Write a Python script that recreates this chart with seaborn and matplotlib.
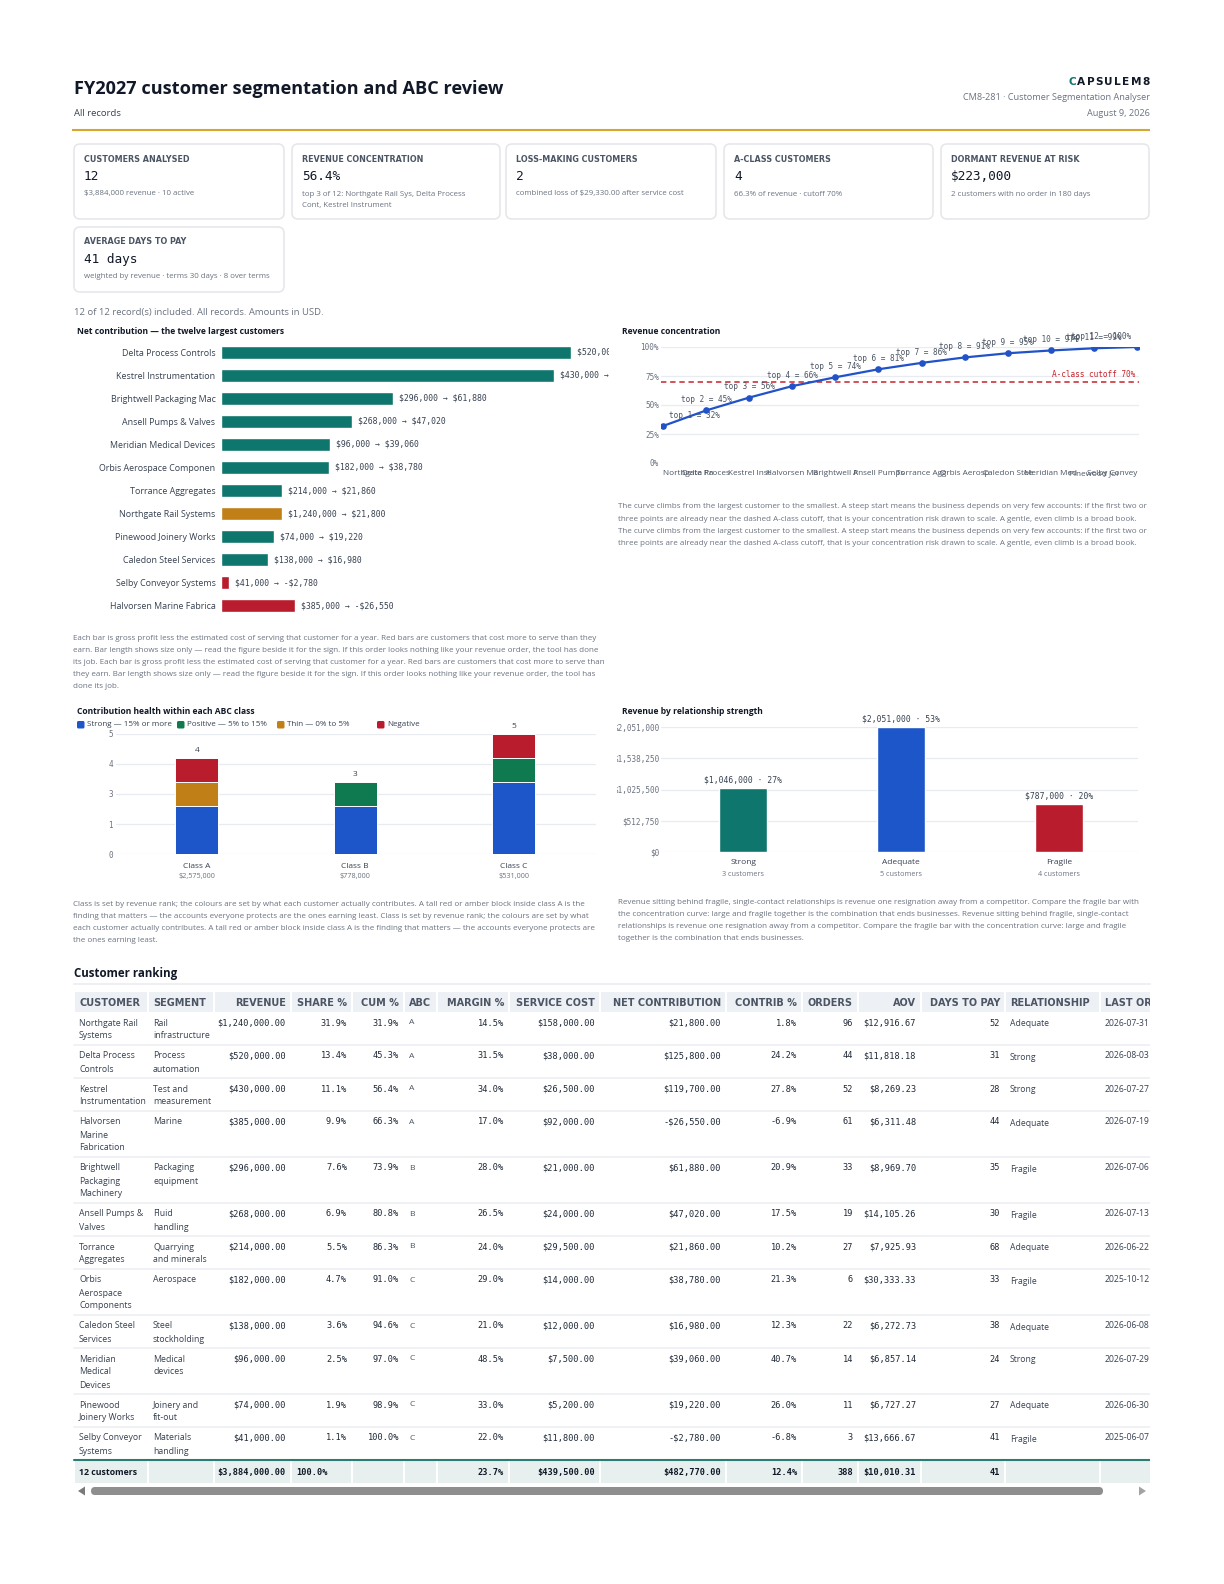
import math
import textwrap

import numpy as np
import pandas as pd
import matplotlib

matplotlib.use("Agg")
import matplotlib.pyplot as plt
import seaborn as sns
from matplotlib import font_manager
from matplotlib.patches import FancyBboxPatch, Rectangle, Polygon

# ============================
# =========== DATA ===========
# ============================

customers = [
    "Northgate Rail Systems", "Delta Process Controls", "Kestrel Instrumentation",
    "Halvorsen Marine Fabrication", "Brightwell Packaging Machinery", "Ansell Pumps & Valves",
    "Torrance Aggregates", "Orbis Aerospace Components", "Caledon Steel Services",
    "Meridian Medical Devices", "Pinewood Joinery Works", "Selby Conveyor Systems",
]
segments = [
    "Rail infrastructure", "Process automation", "Test and measurement", "Marine",
    "Packaging equipment", "Fluid handling", "Quarrying and minerals", "Aerospace",
    "Steel stockholding", "Medical devices", "Joinery and fit-out", "Materials handling",
]
revenue = [1240000, 520000, 430000, 385000, 296000, 268000, 214000, 182000, 138000, 96000, 74000, 41000]
share_pct = [31.9, 13.4, 11.1, 9.9, 7.6, 6.9, 5.5, 4.7, 3.6, 2.5, 1.9, 1.1]
cum_pct = [31.9, 45.3, 56.4, 66.3, 73.9, 80.8, 86.3, 91.0, 94.6, 97.0, 98.9, 100.0]
abc_class = ["A", "A", "A", "A", "B", "B", "B", "C", "C", "C", "C", "C"]
margin_pct = [14.5, 31.5, 34.0, 17.0, 28.0, 26.5, 24.0, 29.0, 21.0, 48.5, 33.0, 22.0]
service_cost = [158000, 38000, 26500, 92000, 21000, 24000, 29500, 14000, 12000, 7500, 5200, 11800]
net_contribution = [21800, 125800, 119700, -26550, 61880, 47020, 21860, 38780, 16980, 39060, 19220, -2780]
contrib_pct = [1.8, 24.2, 27.8, -6.9, 20.9, 17.5, 10.2, 21.3, 12.3, 40.7, 26.0, -6.8]
orders = [96, 44, 52, 61, 33, 19, 27, 6, 22, 14, 11, 3]
aov = [12916.67, 11818.18, 8269.23, 6311.48, 8969.70, 14105.26, 7925.93, 30333.33, 6272.73, 6857.14, 6727.27, 13666.67]
days_to_pay = [52, 31, 28, 44, 35, 30, 68, 33, 38, 24, 27, 41]
relationship = ["Adequate", "Strong", "Strong", "Adequate", "Fragile", "Fragile",
                "Adequate", "Fragile", "Adequate", "Strong", "Adequate", "Fragile"]
last_order = ["2026-07-31", "2026-08-03", "2026-07-27", "2026-07-19", "2026-07-06", "2026-07-13",
              "2026-06-22", "2025-10-12", "2026-06-08", "2026-07-29", "2026-06-30", "2025-06-07"]

abc_levels = ["A", "B", "C"]
health_levels = ["Strong", "Positive", "Thin", "Negative"]
health_legend = ["Strong — 15% or more", "Positive — 5% to 15%", "Thin — 0% to 5%", "Negative"]
relationship_levels = ["Strong", "Adequate", "Fragile"]
cutoff_pct = 70

kpi_cards = [
    ("CUSTOMERS ANALYSED", "12", ["$3,884,000 revenue · 10 active"]),
    ("REVENUE CONCENTRATION", "56.4%", ["top 3 of 12: Northgate Rail Sys, Delta Process", "Cont, Kestrel Instrument"]),
    ("LOSS-MAKING CUSTOMERS", "2", ["combined loss of $29,330.00 after service cost"]),
    ("A-CLASS CUSTOMERS", "4", ["66.3% of revenue · cutoff 70%"]),
    ("DORMANT REVENUE AT RISK", "$223,000", ["2 customers with no order in 180 days"]),
    ("AVERAGE DAYS TO PAY", "41 days", ["weighted by revenue · terms 30 days · 8 over terms"]),
]

caption_net = [
    "Each bar is gross profit less the estimated cost of serving that customer for a year. Red bars are customers that cost more to serve than they",
    "earn. Bar length shows size only — read the figure beside it for the sign. If this order looks nothing like your revenue order, the tool has done",
    "its job. Each bar is gross profit less the estimated cost of serving that customer for a year. Red bars are customers that cost more to serve than",
    "they earn. Bar length shows size only — read the figure beside it for the sign. If this order looks nothing like your revenue order, the tool has",
    "done its job.",
]
caption_curve = [
    "The curve climbs from the largest customer to the smallest. A steep start means the business depends on very few accounts: if the first two or",
    "three points are already near the dashed A-class cutoff, that is your concentration risk drawn to scale. A gentle, even climb is a broad book.",
    "The curve climbs from the largest customer to the smallest. A steep start means the business depends on very few accounts: if the first two or",
    "three points are already near the dashed A-class cutoff, that is your concentration risk drawn to scale. A gentle, even climb is a broad book.",
]
caption_abc = [
    "Class is set by revenue rank; the colours are set by what each customer actually contributes. A tall red or amber block inside class A is the",
    "finding that matters — the accounts everyone protects are the ones earning least. Class is set by revenue rank; the colours are set by what",
    "each customer actually contributes. A tall red or amber block inside class A is the finding that matters — the accounts everyone protects are",
    "the ones earning least.",
]
caption_rel = [
    "Revenue sitting behind fragile, single-contact relationships is revenue one resignation away from a competitor. Compare the fragile bar with",
    "the concentration curve: large and fragile together is the combination that ends businesses. Revenue sitting behind fragile, single-contact",
    "relationships is revenue one resignation away from a competitor. Compare the fragile bar with the concentration curve: large and fragile",
    "together is the combination that ends businesses.",
]

# ============================
# ========== STYLE ===========
# ============================

W, H = 1224, 1584
INK = "#111827"
TEXT = "#374151"
MUTED = "#6B7280"
HEAD = "#4B5563"
TEAL = "#0F766E"
AMBER = "#C17F17"
RED = "#B91C2C"
BLUE = "#1D56C8"
GREEN = "#0F7A4F"
LINE_BLUE = "#2152C8"
MONO = "DejaVu Sans Mono"
WIDE = "DejaVu Sans"

health_colors = {"Strong": BLUE, "Positive": GREEN, "Thin": AMBER, "Negative": RED}
relationship_colors = {"Strong": TEAL, "Adequate": BLUE, "Fragile": RED}


# ============================
# ===== HELPER FUNCTIONS =====
# ============================


def pick_sans():
    """First installed sans family that also ships a bold face."""
    weights = {}
    for f in font_manager.fontManager.ttflist:
        weights.setdefault(f.name, set()).add(f.weight)
    for fam in ["Noto Sans", "Open Sans", "Lato", "Roboto", "Inter", "Liberation Sans"]:
        for w in weights.get(fam, set()):
            if (isinstance(w, (int, float)) and w >= 600) or str(w).lower() in ("bold", "semibold", "demibold", "heavy", "black"):
                return fam
    return "DejaVu Sans"


def money(v, decimals=0):
    s = f"${abs(v):,.{decimals}f}"
    return "-" + s if v < 0 else s


def health_of(i):
    if net_contribution[i] < 0:
        return "Negative"
    if contrib_pct[i] < 5:
        return "Thin"
    if contrib_pct[i] < 15:
        return "Positive"
    return "Strong"


def net_bar_color(i):
    if net_contribution[i] < 0:
        return RED
    if contrib_pct[i] < 5:
        return AMBER
    return TEAL


def main():
    sns.set_theme(style="white")
    sans = pick_sans()
    plt.rcParams["font.family"] = [sans, "DejaVu Sans"]
    plt.rcParams["axes.unicode_minus"] = False
    plt.rcParams["text.parse_math"] = False

    fig = plt.figure(figsize=(W / 100, H / 100), dpi=100)
    fig.patch.set_facecolor("white")
    renderer = fig.canvas.get_renderer()

    # full-page canvas in pixel units
    bg = fig.add_axes([0, 0, 1, 1], zorder=0)
    bg.set_xlim(0, W)
    bg.set_ylim(H, 0)
    bg.axis("off")

    def txt(x, y, s, size=6.5, color=TEXT, weight="normal", ha="left", va="center", family=None, **kw):
        return bg.text(x, y, s, fontsize=size, color=color, fontweight=weight, ha=ha, va=va,
                       family=family if family else [sans, "DejaVu Sans"], **kw)

    def panel_axes(l, t, r, b):
        ax = fig.add_axes([l / W, 1 - b / H, (r - l) / W, (b - t) / H], zorder=1)
        ax.set_facecolor("none")
        return ax

    def mask(ax, x0, y0, x1, y1):
        # white cover standing in for the panel's overflow clip
        ax.add_patch(Rectangle((x0, y0), x1 - x0, y1 - y0, transform=bg.transData, facecolor="white",
                               edgecolor="none", zorder=20, clip_on=False))

    def caption(x, y0, lines):
        for k, line in enumerate(lines):
            txt(x, y0 + 12.2 * k, line, size=5.72, color=MUTED)

    # === Header ===
    txt(74, 89, "FY2027 customer segmentation and ABC review", size=13.1, weight="bold", color=INK)
    txt(74, 113, "All records", size=6.8)
    bg.plot([72, 1150], [130, 130], color="#D6A630", lw=1.5, solid_capstyle="butt")

    # brand mark with letter tracking, right-aligned
    brand = "CAPSULEM8"
    tracking = 1.3
    glyphs = []
    for k, ch in enumerate(brand):
        g = txt(0, 82, ch, size=7.6, weight="bold", color=TEAL if k == 0 else INK, family=WIDE)
        glyphs.append((g, g.get_window_extent(renderer).width))
    total_w = sum(w for _, w in glyphs) + tracking * (len(brand) - 1)
    x = 1150 - total_w
    for g, w in glyphs:
        g.set_x(x)
        x += w + tracking

    txt(1150, 98, "CM8-281 · Customer Segmentation Analyser", size=6.6, color=MUTED, ha="right")
    txt(1150, 113, "August 9, 2026", size=6.6, color=MUTED, ha="right")

    # === KPI cards ===
    card_boxes = [(74, 144, 284, 219), (292, 144, 500, 219), (506, 144, 716, 219),
                  (724, 144, 933, 219), (941, 144, 1149, 219), (74, 227, 284, 292)]
    for (l, t, r, b), (label, value, subs) in zip(card_boxes, kpi_cards):
        bg.add_patch(FancyBboxPatch((l, t), r - l, b - t, boxstyle="round,pad=0,rounding_size=6",
                                    facecolor="white", edgecolor="#E3E6EA", lw=1.1))
        txt(l + 10, t + 15, label, size=5.8, weight="bold", color=HEAD, family=WIDE)
        txt(l + 10, t + 32.5, value, size=9.2, color=INK, family=MONO)
        for k, s in enumerate(subs):
            txt(l + 10, t + 50 + 12 * k, s, size=5.7, color=MUTED)

    txt(74, 313, "12 of 12 record(s) included. All records. Amounts in USD.", size=6.8, color=MUTED)

    # === Chart 1: net contribution bars ===
    txt(77, 332, "Net contribution — the twelve largest customers", size=6.1, weight="bold", color=INK)
    idx = sorted(range(len(customers)), key=lambda i: -net_contribution[i])
    net_df = pd.DataFrame({
        "label": [customers[i][:24] for i in idx],
        "size": [abs(net_contribution[i]) for i in idx],
        "text": [f"{money(revenue[i])} → {money(net_contribution[i])}" for i in idx],
        "color": [net_bar_color(i) for i in idx],
    })
    ax1 = panel_axes(221, 340.5, 609, 617.5)
    sns.barplot(data=net_df, x="size", y="label", hue="label", palette=net_df["color"].tolist(),
                saturation=1, width=0.56, legend=False, orient="h", ax=ax1)
    xmax = net_df["size"].max() * 388 / 350
    ax1.set_xlim(0, xmax)
    ax1.set_ylim(len(net_df) - 0.5, -0.5)
    ax1.set_xticks([])
    ax1.set_xlabel("")
    ax1.set_ylabel("")
    sns.despine(ax=ax1, left=True, bottom=True)
    ax1.tick_params(axis="y", length=0, pad=4, labelsize=6.4, labelcolor=TEXT)
    for k, row in net_df.iterrows():
        ax1.text(row["size"] + xmax * 6 / 388, k, row["text"], va="center", ha="left",
                 fontsize=5.9, family=MONO, color=TEXT, clip_on=False)
    mask(ax1, 609, 342, 700, 384)
    caption(73, 638, caption_net)

    # === Chart 2: revenue concentration curve ===
    txt(622, 332, "Revenue concentration", size=6.1, weight="bold", color=INK)
    ax2 = panel_axes(661, 347, 1139, 463)
    cum_df = pd.DataFrame({"rank": np.arange(len(customers)), "cum": cum_pct})
    sns.lineplot(data=cum_df, x="rank", y="cum", color=LINE_BLUE, linewidth=1.6, marker="o",
                 markersize=4.8, markeredgewidth=0, ax=ax2)
    step = (len(customers) - 1) / 474
    ax2.set_xlim(-2 * step, len(customers) - 1 + 2 * step)
    ax2.set_ylim(0, 100)
    ax2.set_yticks([0, 25, 50, 75, 100])
    ax2.set_yticklabels([f"{v}%" for v in [0, 25, 50, 75, 100]], family=MONO)
    ax2.set_xticks(cum_df["rank"])
    xlabels = ax2.set_xticklabels([c[:12] for c in customers])
    xlabels[0].set_horizontalalignment("left")
    xlabels[-1].set_horizontalalignment("right")
    ax2.yaxis.grid(True, color="#E8EBEF", lw=0.9)
    ax2.set_axisbelow(True)
    sns.despine(ax=ax2, left=True, bottom=True)
    ax2.tick_params(axis="y", length=0, pad=1.5, labelsize=5.5, labelcolor=MUTED)
    ax2.tick_params(axis="x", length=0, pad=5, labelsize=5.9, labelcolor=HEAD)
    ax2.set_xlabel("")
    ax2.set_ylabel("")
    ax2.axhline(cutoff_pct, color="#C8232C", lw=1.1, ls=(0, (3.5, 2.5)), zorder=1)
    ax2.text(0.992, cutoff_pct + 2.5, f"A-class cutoff {cutoff_pct}%", transform=ax2.get_yaxis_transform(),
             ha="right", va="bottom", fontsize=5.6, family=MONO, color="#C8232C")
    n = len(cum_pct)
    for i, v in enumerate(cum_pct):
        label = f"top {i + 1} = {round(v)}%"
        if i == 0:
            ha, dx = "left", 4
        elif i == n - 1:
            ha, dx = "right", -4
        else:
            ha, dx = "center", 0
        ax2.annotate(label, xy=(i, v), xytext=(dx, 4.5), textcoords="offset points", ha=ha, va="bottom",
                     fontsize=5.6, family=MONO, color=HEAD, annotation_clip=False)
    caption(618, 507, caption_curve)

    # === Chart 3: contribution health stacked by ABC class ===
    txt(77, 712, "Contribution health within each ABC class", size=6.1, weight="bold", color=INK)
    for k, (lvl, name) in enumerate(zip(health_levels, health_legend)):
        x0 = 77 + 100 * k
        bg.add_patch(FancyBboxPatch((x0, 721), 7.5, 7.5, boxstyle="round,pad=0,rounding_size=1.5",
                                    facecolor=health_colors[lvl], edgecolor="none"))
        txt(x0 + 10, 725, name, size=5.8, color=TEXT)

    health_df = pd.DataFrame({"abc": abc_class, "health": [health_of(i) for i in range(len(customers))]})
    counts = pd.crosstab(health_df["abc"], health_df["health"]).reindex(
        index=abc_levels, columns=health_levels, fill_value=0)
    stacked = counts.cumsum(axis=1)
    class_revenue = pd.Series(revenue).groupby(pd.Series(abc_class)).sum().reindex(abc_levels)
    class_labels = [f"Class {c}" for c in abc_levels]

    ax3 = panel_axes(116, 734, 596, 854)
    for lvl in reversed(health_levels):
        sns.barplot(x=class_labels, y=stacked[lvl].values, color=health_colors[lvl], saturation=1,
                    width=0.27, edgecolor="white", linewidth=0.7, ax=ax3)
    ax3.set_xlim(-0.51, 2.52)
    ax3.set_ylim(0, 5)
    yt = np.linspace(0, 5, 5)
    ax3.set_yticks(yt)
    ax3.set_yticklabels([str(int(math.floor(v + 0.5))) for v in yt], family=MONO)
    ax3.yaxis.grid(True, color="#E8EBEF", lw=0.9)
    ax3.set_axisbelow(True)
    sns.despine(ax=ax3, left=True, bottom=True)
    ax3.tick_params(axis="y", length=0, pad=2, labelsize=5.5, labelcolor=MUTED)
    ax3.set_xticks(range(len(abc_levels)))
    ax3.set_xticklabels([])
    ax3.tick_params(axis="x", length=0)
    ax3.set_xlabel("")
    ax3.set_ylabel("")
    for i, c in enumerate(abc_levels):
        total = int(counts.loc[c].sum())
        ax3.annotate(str(total), xy=(i, total), xytext=(0, 3), textcoords="offset points",
                     ha="center", va="bottom", fontsize=6, color=TEXT, annotation_clip=False)
        ax3.annotate(class_labels[i], xy=(i, 0), xytext=(0, -12), textcoords="offset pixels",
                     ha="center", va="center", fontsize=6, color=TEXT, annotation_clip=False)
        ax3.annotate(money(class_revenue[c]), xy=(i, 0), xytext=(0, -22.5), textcoords="offset pixels",
                     ha="center", va="center", fontsize=5.2, color=MUTED, annotation_clip=False)
    caption(73, 904, caption_abc)

    # === Chart 4: revenue by relationship strength ===
    txt(622, 712, "Revenue by relationship strength", size=6.1, weight="bold", color=INK)
    rel_df = pd.DataFrame({"rel": relationship, "revenue": revenue})
    rel_rev = rel_df.groupby("rel")["revenue"].sum().reindex(relationship_levels)
    rel_cnt = rel_df.groupby("rel")["revenue"].size().reindex(relationship_levels)
    ax4 = panel_axes(661, 727, 1138, 852)
    sns.barplot(x=relationship_levels, y=rel_rev.values, hue=relationship_levels,
                palette=[relationship_colors[r] for r in relationship_levels], saturation=1,
                width=0.30, legend=False, ax=ax4)
    ymax = rel_rev.max()
    ax4.set_xlim(-0.52, 2.5)
    ax4.set_ylim(0, ymax)
    yt4 = np.linspace(0, ymax, 5)
    ax4.set_yticks(yt4)
    ax4.set_yticklabels([money(v) for v in yt4], family=MONO)
    ax4.yaxis.grid(True, color="#E8EBEF", lw=0.9)
    ax4.set_axisbelow(True)
    sns.despine(ax=ax4, left=True, bottom=True)
    ax4.tick_params(axis="y", length=0, pad=1.3, labelsize=5.5, labelcolor=MUTED)
    ax4.tick_params(axis="x", length=0)
    ax4.set_xticks(range(len(relationship_levels)))
    ax4.set_xticklabels([])
    ax4.set_xlabel("")
    ax4.set_ylabel("")
    total_rev = sum(revenue)
    for i, r in enumerate(relationship_levels):
        v = rel_rev[r]
        ax4.annotate(f"{money(v)} · {round(v / total_rev * 100)}%", xy=(i, v), xytext=(0, 2.5),
                     textcoords="offset points", ha="center", va="bottom", fontsize=5.8, family=MONO,
                     color=TEXT, annotation_clip=False)
        ax4.annotate(r, xy=(i, 0), xytext=(0, -10), textcoords="offset pixels",
                     ha="center", va="center", fontsize=6, color=TEXT, annotation_clip=False)
        ax4.annotate(f"{rel_cnt[r]} customers", xy=(i, 0), xytext=(0, -22), textcoords="offset pixels",
                     ha="center", va="center", fontsize=5.2, color=MUTED, annotation_clip=False)
    mask(ax4, 602, 715, 617, 860)
    caption(618, 902, caption_rel)

    # === Table: customer ranking ===
    txt(74, 973, "Customer ranking", size=8.3, weight="bold", color=INK)
    bg.plot([74, 1150], [984, 984], color="#EDEFF2", lw=1.4)

    headers = ["CUSTOMER", "SEGMENT", "REVENUE", "SHARE %", "CUM %", "ABC", "MARGIN %", "SERVICE COST",
               "NET CONTRIBUTION", "CONTRIB %", "ORDERS", "AOV", "DAYS TO PAY", "RELATIONSHIP", "LAST ORDER"]
    aligns = ["l", "l", "r", "r", "r", "l", "r", "r", "r", "r", "r", "r", "r", "l", "l"]
    bounds = [74, 148, 214, 291, 352, 404, 437, 509, 600, 726, 802, 858, 921, 1005, 1100, 1180]
    table_right = 1150

    def cell_x(j):
        return bounds[j] + 5 if aligns[j] == "l" else bounds[j + 1] - 5

    def cell(j, y, s, **kw):
        return txt(cell_x(j), y, s, ha="left" if aligns[j] == "l" else "right", **kw)

    head_top, head_bot = 992, 1012
    for j, h in enumerate(headers):
        x0 = bounds[j] + 0.6
        x1 = min(bounds[j + 1] - 0.6, table_right)
        bg.add_patch(Rectangle((x0, head_top), x1 - x0, head_bot - head_top, facecolor="#EDF0F4",
                               edgecolor="none"))
        cell(j, 1002.5, h, size=7.0, weight="bold", color=HEAD, family=WIDE)

    rows_top = head_bot
    for i in range(len(customers)):
        cust_lines = textwrap.wrap(customers[i], 14, break_long_words=False)
        seg_lines = textwrap.wrap(segments[i], 12, break_long_words=False)
        nlines = max(len(cust_lines), len(seg_lines))
        if i > 0:
            bg.plot([74, table_right], [rows_top, rows_top], color="#EEF0F3", lw=1.3)
        y = rows_top + 11
        for k, s in enumerate(cust_lines):
            cell(0, y + 13 * k, s, size=6.3, color=TEXT)
        for k, s in enumerate(seg_lines):
            cell(1, y + 13 * k, s, size=6.3, color=TEXT)
        num = dict(size=6.2, color="#1F2937", family=MONO)
        cell(2, y, money(revenue[i], 2), **num)
        cell(3, y, f"{share_pct[i]:.1f}%", **num)
        cell(4, y, f"{cum_pct[i]:.1f}%", **num)
        cell(5, y, abc_class[i], size=6.1, color=HEAD)
        cell(6, y, f"{margin_pct[i]:.1f}%", **num)
        cell(7, y, money(service_cost[i], 2), **num)
        cell(8, y, money(net_contribution[i], 2), **num)
        cell(9, y, f"{contrib_pct[i]:.1f}%", **num)
        cell(10, y, f"{orders[i]}", **num)
        cell(11, y, money(aov[i], 2), **num)
        cell(12, y, f"{days_to_pay[i]}", **num)
        cell(13, y + 1, relationship[i], size=6.2, color=TEXT)
        cell(14, y, last_order[i], size=6.2, color=TEXT)
        rows_top += 13 * nlines + 7

    # footer totals
    foot_top, foot_bot = rows_top, rows_top + 23
    for j in range(len(headers)):
        x0 = bounds[j] + 0.6
        x1 = min(bounds[j + 1] - 0.6, table_right)
        bg.add_patch(Rectangle((x0, foot_top), x1 - x0, foot_bot - foot_top, facecolor="#E7F0EE",
                               edgecolor="none"))
    bg.plot([74, table_right], [foot_top, foot_top], color="#2C7C73", lw=1.5)
    total_cost = sum(service_cost)
    total_net = sum(net_contribution)
    total_orders = sum(orders)
    wdays = sum(r * d for r, d in zip(revenue, days_to_pay)) / total_rev
    yf = foot_top + 12.5
    bnum = dict(size=6.2, color=INK, family=MONO, weight="bold")
    cell(0, yf, f"{len(customers)} customers", size=6.3, weight="bold", color=INK)
    cell(2, yf, money(total_rev, 2), **bnum)
    txt(bounds[3] + 5, yf, "100.0%", **bnum)
    cell(6, yf, f"{(total_net + total_cost) / total_rev * 100:.1f}%", **bnum)
    cell(7, yf, money(total_cost, 2), **bnum)
    cell(8, yf, money(total_net, 2), **bnum)
    cell(9, yf, f"{total_net / total_rev * 100:.1f}%", **bnum)
    cell(10, yf, f"{total_orders}", **bnum)
    cell(11, yf, money(total_rev / total_orders, 2), **bnum)
    cell(12, yf, f"{round(wdays)}", **bnum)

    # right-hand overflow of the scrolling table
    bg.add_patch(Rectangle((table_right, head_top - 2), W - table_right, foot_bot - head_top + 4,
                           facecolor="white", edgecolor="none", zorder=10))

    # scrollbar
    sy = foot_bot + 8
    bg.add_patch(FancyBboxPatch((91, sy - 4), 1012, 8, boxstyle="round,pad=0,rounding_size=4",
                                facecolor="#8E8E8E", edgecolor="none"))
    bg.add_patch(Polygon([(78, sy), (85, sy - 4.5), (85, sy + 4.5)], closed=True, facecolor="#7A7A7A",
                         edgecolor="none"))
    bg.add_patch(Polygon([(1146, sy), (1139, sy - 4.5), (1139, sy + 4.5)], closed=True, facecolor="#A3A3A3",
                         edgecolor="none"))

    fig.savefig("out.png", dpi=100, facecolor="white")


if __name__ == "__main__":
    main()
